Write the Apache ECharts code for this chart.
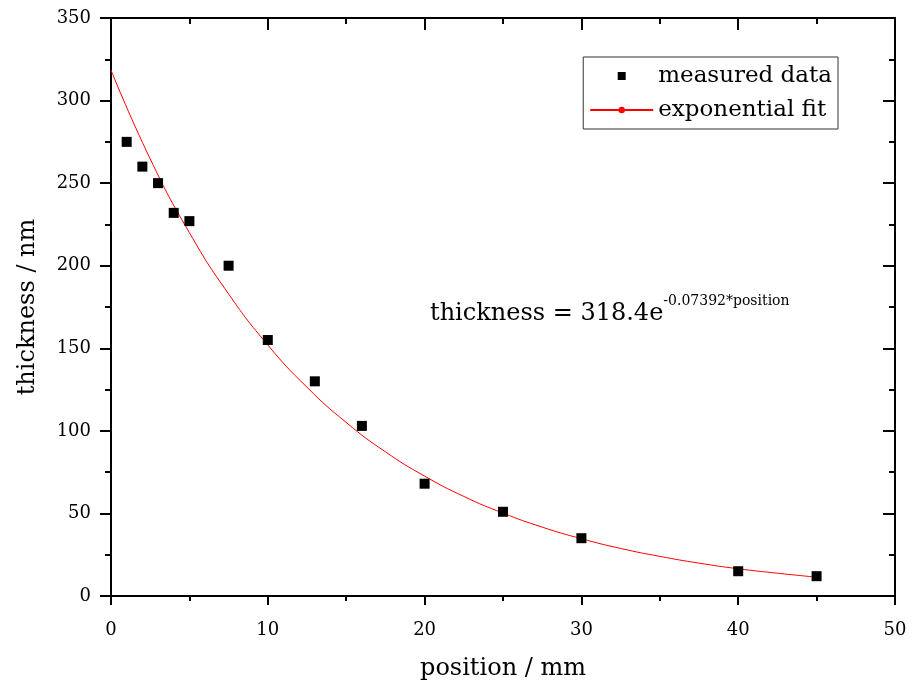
<!DOCTYPE html>
<html>
<head>
<meta charset="utf-8">
<script src="https://cdn.jsdelivr.net/npm/echarts@6/dist/echarts.min.js"></script>
<style>
  html, body { margin: 0; padding: 0; background: #fff; }
  #chart { width: 912px; height: 686px; }
</style>
</head>
<body>
<div id="chart"></div>
<script>
var positions = [1, 2, 3, 4, 5, 7.5, 10, 13, 16, 20, 25, 30, 40, 45]
var thickness = [275, 260, 250, 232, 227, 200, 155, 130, 103, 68, 51, 35, 15, 12]
var fitX = [0, 2.5, 5, 7.5, 10, 12.5, 15, 17.5, 20, 22.5, 25, 27.5, 30, 32.5, 35, 37.5, 40, 42.5, 45]
var fitY = [318.4, 264.7, 220.0, 182.9, 152.0, 126.4, 105.1, 87.3, 72.6, 60.3, 50.2, 41.7, 34.7, 28.8, 24.0, 19.9, 16.5, 13.8, 11.4]
var xTicks = [0, 10, 20, 30, 40, 50]
var yTicks = [0, 50, 100, 150, 200, 250, 300, 350]

var font = '"DejaVu Serif", "Liberation Serif", serif'

var measured = positions.map(function (x, i) { return [x, thickness[i]] })
var fit = fitX.map(function (x, i) { return [x, fitY[i]] })

var axisLine = { show: true, onZero: false, lineStyle: { color: '#000', width: 2 } }

var chart = echarts.init(document.getElementById('chart'))
chart.setOption({
  backgroundColor: '#fff',
  animation: false,
  grid: { left: 111, right: 17, top: 18, bottom: 90 },
  legend: {
    orient: 'vertical',
    right: 74,
    top: 57,
    padding: [5, 6, 5, 6],
    itemGap: 6,
    itemWidth: 63,
    itemHeight: 8,
    borderColor: '#333',
    borderWidth: 1,
    textStyle: { fontFamily: font, fontSize: 23, color: '#000', lineHeight: 28 },
    data: [
      { name: 'measured data', icon: 'path://M-4,-4L4,-4L4,4L-4,4Z' },
      { name: 'exponential fit' }
    ]
  },
  xAxis: [{
    type: 'value',
    min: 0,
    max: 50,
    interval: 10,
    name: 'position / mm',
    nameLocation: 'middle',
    nameGap: 61,
    nameTextStyle: { fontFamily: font, fontSize: 24, color: '#000' },
    axisLine: axisLine,
    axisTick: { show: true, inside: false, length: 9, lineStyle: { color: '#000', width: 2 } },
    minorTick: { show: true, splitNumber: 2, length: 5, lineStyle: { color: '#000', width: 2 } },
    axisLabel: {
      fontFamily: font, fontSize: 18, color: '#000', margin: 25,
      formatter: function (v) { return xTicks.indexOf(v) >= 0 ? String(v) : '' }
    },
    splitLine: { show: false }
  }, {
    type: 'value',
    position: 'top',
    min: 0,
    max: 50,
    interval: 10,
    axisLine: axisLine,
    axisTick: { show: true, inside: true, length: 12, lineStyle: { color: '#000', width: 2 } },
    minorTick: { show: true, splitNumber: 2, length: 6, lineStyle: { color: '#000', width: 2 } },
    axisLabel: { show: false },
    splitLine: { show: false }
  }],
  yAxis: [{
    type: 'value',
    min: 0,
    max: 350,
    interval: 50,
    name: 'thickness / nm',
    nameLocation: 'middle',
    nameGap: 71,
    nameTextStyle: { fontFamily: font, fontSize: 24, color: '#000' },
    axisLine: axisLine,
    axisTick: { show: true, inside: false, length: 11, lineStyle: { color: '#000', width: 2 } },
    minorTick: { show: true, splitNumber: 2, length: 6, lineStyle: { color: '#000', width: 2 } },
    axisLabel: {
      fontFamily: font, fontSize: 18, color: '#000', margin: 20,
      formatter: function (v) { return yTicks.indexOf(v) >= 0 ? String(v) : '' }
    },
    splitLine: { show: false }
  }, {
    type: 'value',
    position: 'right',
    min: 0,
    max: 350,
    interval: 50,
    axisLine: axisLine,
    axisTick: { show: true, inside: true, length: 12, lineStyle: { color: '#000', width: 2 } },
    minorTick: { show: true, splitNumber: 2, length: 6, lineStyle: { color: '#000', width: 2 } },
    axisLabel: { show: false },
    splitLine: { show: false }
  }],
  graphic: [{
    type: 'text',
    left: 430,
    top: 294,
    style: {
      text: '{a|thickness = 318.4e}{b|-0.07392*position}',
      rich: {
        a: { fontFamily: font, fontSize: 24, lineHeight: 32, fill: '#000', verticalAlign: 'bottom' },
        b: { fontFamily: font, fontSize: 14, lineHeight: 32, fill: '#000', verticalAlign: 'top', padding: [0, 0, 14, 0] }
      }
    }
  }],
  series: [{
    name: 'exponential fit',
    type: 'line',
    data: fit,
    smooth: true,
    showSymbol: false,
    symbol: 'circle',
    symbolSize: 6,
    lineStyle: { color: '#ff0000', width: 1 },
    itemStyle: { color: '#ff0000' },
    z: 2
  }, {
    name: 'measured data',
    type: 'scatter',
    data: measured,
    symbol: 'rect',
    symbolSize: 10,
    itemStyle: { color: '#000', opacity: 1 },
    z: 3
  }]
})
</script>
</body>
</html>
